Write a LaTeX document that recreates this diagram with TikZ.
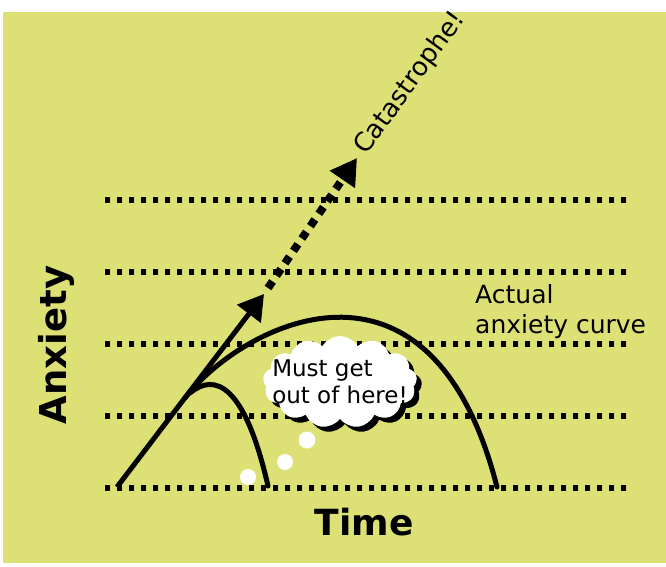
\documentclass[tikz,border=0pt]{standalone}
\usepackage{fontspec}
\setmainfont{DejaVu Sans}
\usetikzlibrary{arrows.meta,shapes.symbols,shadows}
\definecolor{bgyellow}{RGB}{220,224,117}
\tikzset{
  level/.style={line width=6.5pt, dash pattern=on 4.5pt off 7.5pt, black},
  curve/.style={line width=5pt, black, line cap=round},
  lbl/.style={inner sep=0pt, text=black}
}
\begin{document}
\begin{tikzpicture}[x=1pt,y=-1pt]
\useasboundingbox (0,0) rectangle (666,566);
\fill[bgyellow] (3,12) rectangle (666,563);
% dotted levels
\foreach \yy in {200,272,344,416,488} {
  \draw[level] (105,\yy) -- (627,\yy);
}
% coordinates
\coordinate (start) at (117,487);
\coordinate (tip1) at (264,294);
\coordinate (dstart) at (268,288);
\coordinate (tip2) at (357,158);
\coordinate (bigstart) at (185,398);
\coordinate (bigend) at (497,487);
\coordinate (smallstart) at (190,393);
\coordinate (smallend) at (268,486);
% straight arrow
\draw[line width=5pt, -{Triangle[length=25pt,width=29pt]}] (start) -- (tip1);
% dotted arrow
\draw[line width=8pt, dash pattern=on 8pt off 7pt, -{Triangle[length=26pt,width=29pt]}] (dstart) -- (tip2);
% actual anxiety curve
\draw[curve] (bigstart) .. controls (240,326) and (430,225) .. (bigend);
% small curve
\draw[curve] (smallstart) .. controls (215,372) and (245,385) .. (smallend);
% thought bubbles
\fill[white] (248,477) circle (8);
\fill[white] (285,462) circle (8);
\fill[white] (307,440) circle (8.5);
% cloud
\node[cloud, cloud puffs=13, cloud puff arc=120, aspect=1.7, minimum width=154pt, minimum height=92pt, fill=white, draw=none,
  drop shadow={shadow xshift=5pt, shadow yshift=-5pt, fill=black, opacity=1}] (cloud) at (340,382) {};
\node[lbl, align=left, font=\fontsize{23}{27}\selectfont] (think) at (340,382) {Must get\\out of here!};
% labels
\node[lbl, anchor=north west, align=left, font=\fontsize{25}{30}\selectfont] (actual) at (475,284) {Actual\\anxiety curve};
\node[lbl, anchor=base west, rotate=54, font=\fontsize{26}{30}\selectfont] (cat) at (366,156) {Catastrophe!};
\node[lbl, anchor=base, font=\bfseries\fontsize{36}{40}\selectfont] (time) at (364,535) {Time};
\node[lbl, anchor=base, rotate=90, font=\bfseries\fontsize{37}{40}\selectfont] (anx) at (66,345) {Anxiety};
\end{tikzpicture}
\end{document}
